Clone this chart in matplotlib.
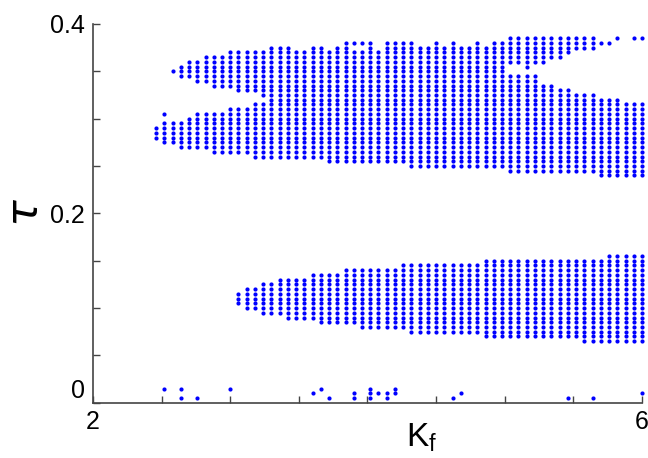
import numpy as np
import matplotlib.pyplot as plt
from matplotlib.transforms import ScaledTranslation

# sweep grid: column i -> Kf = KF0 + DKF*i, row j -> tau = DTAU*j
KF0, DKF, DTAU = 2.04, 0.06, 0.005

# upper stable block, one entry per vertical run of dots (column, first row, last row)
up_col = [7, 8, 8, 9, 9, 10, 10, 11, 11, 12, 12, 13, 13, 14, 14, 15, 15, 16, 16,
          17, 17, 18, 18, 19, 19, 20, 20,
          21, 22, 23, 24, 25, 26, 27, 28, 29, 30, 31, 31, 32, 32, 33, 34, 35, 36, 37,
          38, 39, 40, 41, 42, 43, 44, 45, 46, 47, 48, 49,
          50, 50, 51, 51, 52, 52, 53, 53, 54, 54, 55, 55, 56, 56, 57, 57,
          58, 58, 59, 59, 60, 60, 61, 61, 62, 62, 63, 63, 64, 65, 65, 66, 66]
up_lo = [56, 55, 61, 55, 70, 54, 69, 54, 69, 54, 68, 54, 68, 53, 67, 53, 67, 53, 67,
         53, 66, 53, 66, 52, 66, 52, 65,
         52, 52, 52, 52, 52, 52, 52, 51, 51, 51, 51, 76, 51, 76, 51, 51, 51, 51, 51,
         50, 50, 50, 50, 50, 50, 50, 50, 50, 50, 50, 50,
         49, 72, 49, 72, 49, 71, 49, 72, 49, 72, 49, 73, 49, 73, 49, 74,
         49, 75, 49, 75, 49, 75, 48, 76, 48, 76, 48, 77, 48, 48, 77, 48, 77]
up_hi = [58, 59, 61, 59, 70, 59, 71, 60, 72, 61, 72, 61, 73, 61, 73, 61, 73, 62, 74,
         62, 74, 62, 74, 63, 74, 63, 74,
         75, 75, 75, 74, 74, 75, 75, 74, 75, 76, 74, 76, 74, 76, 76, 74, 76, 76, 76,
         76, 75, 75, 76, 75, 76, 75, 75, 76, 75, 76, 76,
         69, 77, 69, 77, 69, 77, 69, 77, 67, 77, 67, 77, 66, 77, 66, 77,
         65, 77, 65, 77, 65, 77, 64, 76, 64, 76, 64, 77, 63, 63, 77, 63, 77]

# lower stable block, columns 17..66
low_col = list(range(17, 67))
low_lo = [21, 20, 20, 19, 19, 19, 18, 18, 18, 18, 17, 17, 17, 17, 17,
          16, 16, 16, 16, 16, 16, 15, 15, 15, 15, 15, 15, 15, 15, 15,
          14, 14, 14, 14, 14, 14, 14, 14, 14, 14, 14, 14,
          13, 13, 13, 13, 13, 13, 13, 13]
low_hi = [23, 24, 24, 25, 25, 26, 26, 26, 26, 27, 27, 27, 27, 28, 28,
          28, 28, 28, 28, 28, 29, 29, 29, 29, 29, 29, 29, 29, 29, 29,
          30, 30, 30, 30, 30, 30, 30, 30, 30, 30, 30, 30,
          30, 30, 30, 31, 31, 31, 31, 31]

# isolated points near tau = 0
stray_col = [8, 10, 10, 12, 16, 26, 27, 28, 31, 31, 33, 33, 33, 34, 35, 35, 36, 36, 43, 44, 57, 60, 66]
stray_row = [3, 3, 1, 1, 3, 2, 3, 1, 2, 1, 3, 2, 1, 2, 2, 1, 3, 2, 1, 2, 1, 1, 2]

xticks = np.arange(2, 6.01, 0.5)
xlabels = ['2', '', '', '', '', '', '', '', '6']
yticks = np.arange(0, 0.401, 0.05)
ylabels = ['0', '', '', '', '0.2', '', '', '', '0.4']


def expand(cols, los, his):
    xs, ys = [], []
    for c, lo, hi in zip(cols, los, his):
        for j in range(lo, hi + 1):
            xs.append(KF0 + DKF * c)
            ys.append(DTAU * j)
    return xs, ys


plt.rcParams['font.family'] = ['Liberation Sans', 'DejaVu Sans']

fig = plt.figure(figsize=(6.48, 4.58), dpi=100)
ax = fig.add_axes([0.1435, 0.1207, 0.8472, 0.8269])

for cols, los, his in [(up_col, up_lo, up_hi), (low_col, low_lo, low_hi)]:
    x, y = expand(cols, los, his)
    ax.scatter(x, y, s=9, marker='o', color='#0000ff', linewidths=0, clip_on=False)

sx = [KF0 + DKF * c for c in stray_col]
sy = [DTAU * r for r in stray_row]
ax.scatter(sx, sy, s=9, marker='o', color='#0000ff', linewidths=0, clip_on=False)

ax.set_xlim(2, 6)
ax.set_ylim(0, 0.4)
ax.set_xticks(xticks)
ax.set_xticklabels(xlabels)
ax.set_yticks(yticks)
ax.set_yticklabels(ylabels)
ax.tick_params(direction='in', length=5, width=1, colors='#444444', labelsize=18,
               labelcolor='black')
ax.tick_params(axis='x', pad=5)
ax.tick_params(axis='y', pad=6)

# the "0" label sits a little above its tick in the original
lab0 = ax.get_yticklabels()[0]
lab0.set_transform(lab0.get_transform() + ScaledTranslation(0, 10 / 72, fig.dpi_scale_trans))

for side in ['top', 'right']:
    ax.spines[side].set_visible(False)
for side in ['left', 'bottom']:
    ax.spines[side].set_color('#444444')
    ax.spines[side].set_linewidth(1.2)

fig.text(422 / 648, 1 - 438 / 458, r'$\mathregular{K_f}$', fontsize=24,
         ha='center', va='center')
fig.text(26 / 648, 1 - 213 / 458, r'$\tau$', fontsize=32, rotation=90,
         ha='center', va='center')

fig.savefig('out.png', dpi=100)
